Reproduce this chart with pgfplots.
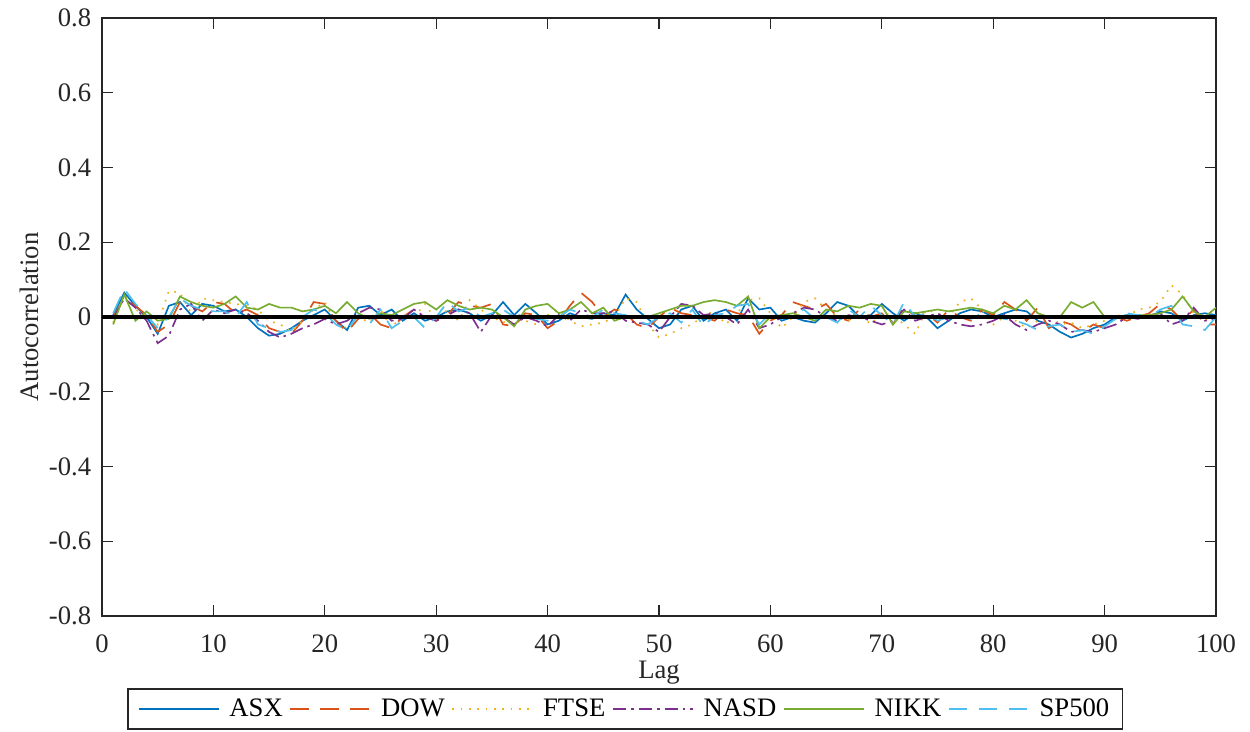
\documentclass[border=0pt]{standalone}
\usepackage{fontspec}
\setmainfont{Liberation Serif}
\usepackage{pgfplots}
\pgfplotsset{compat=1.18}
\usepackage{pgfplotstable}
\definecolor{cASX}{HTML}{0072BD}
\definecolor{cDOW}{HTML}{D95319}
\definecolor{cFTSE}{HTML}{EDB120}
\definecolor{cNASD}{HTML}{7E2F8E}
\definecolor{cNIKK}{HTML}{77AC30}
\definecolor{cSP}{HTML}{4DBEEE}
\definecolor{axgray}{HTML}{262626}

\pgfplotstableread{
lag ASX DOW FTSE NASD NIKK SP
1 0.005 0.0 -0.015 -0.005 -0.02 0.01
2 0.065 0.05 0.06 0.05 0.06 0.075
3 0.03 0.03 0.02 0.025 -0.01 0.035
4 0.0 0.005 0.005 -0.01 0.015 0.005
5 -0.045 -0.04 -0.02 -0.07 -0.01 -0.03
6 0.03 -0.02 0.07 -0.05 -0.005 0.0
7 0.04 0.04 0.065 0.02 0.055 0.05
8 0.005 0.03 0.01 0.035 0.04 0.03
9 0.035 0.015 0.05 -0.01 0.03 0.02
10 0.03 0.04 0.045 0.02 0.025 0.015
11 0.015 0.035 0.04 0.01 0.035 0.015
12 0.02 0.01 0.035 0.02 0.055 0.0
13 0.0 0.02 0.03 0.01 0.025 0.04
14 -0.03 0.005 0.02 -0.01 0.02 -0.02
15 -0.05 -0.03 -0.01 -0.04 0.035 -0.03
16 -0.045 -0.04 -0.02 -0.055 0.025 -0.04
17 -0.03 -0.045 -0.04 -0.045 0.025 -0.035
18 -0.01 -0.01 -0.01 -0.03 0.015 0.0
19 0.005 0.04 0.02 -0.02 0.02 0.02
20 0.02 0.035 0.04 -0.005 0.03 0.01
21 -0.01 -0.01 -0.02 -0.02 0.01 -0.02
22 -0.035 -0.04 -0.03 -0.01 0.04 -0.035
23 0.025 -0.005 0.0 0.01 0.01 0.005
24 0.03 0.01 -0.015 0.025 -0.005 -0.02
25 0.005 -0.02 0.02 0.02 0.01 0.02
26 0.02 -0.03 -0.03 -0.01 0.005 -0.03
27 -0.01 0.0 0.01 -0.005 0.02 -0.01
28 0.01 0.02 0.0 0.02 0.035 0.0
29 -0.01 0.0 0.035 0.0 0.04 -0.03
30 0.0 -0.01 -0.01 -0.01 0.02 0.0
31 0.015 0.005 0.02 0.005 0.045 0.04
32 0.02 0.04 -0.01 0.02 0.03 0.015
33 0.01 0.03 0.045 0.01 0.02 0.025
34 -0.01 0.025 0.02 -0.04 0.025 0.0
35 0.005 0.035 0.0 0.005 0.02 0.01
36 0.04 -0.02 -0.015 0.0 0.0 0.02
37 0.005 -0.025 0.0 -0.02 -0.025 0.0
38 0.035 0.01 -0.01 0.0 0.02 0.01
39 0.01 0.005 -0.02 -0.01 0.03 -0.005
40 -0.02 -0.03 0.005 -0.025 0.035 -0.01
41 -0.01 -0.01 0.02 0.005 0.01 0.0
42 0.01 0.03 -0.01 -0.01 0.02 0.02
43 0.0 0.065 -0.025 0.02 0.04 0.01
44 -0.005 0.04 -0.02 0.01 0.01 0.0
45 0.01 0.0 -0.015 0.01 0.025 0.02
46 0.005 0.02 0.0 0.015 -0.01 0.01
47 0.06 0.01 0.05 -0.01 0.0 0.005
48 0.02 -0.02 0.04 -0.015 0.0 -0.01
49 -0.005 -0.03 -0.02 -0.02 0.0 -0.02
50 -0.03 0.0 -0.055 -0.04 0.01 0.0
51 -0.02 0.025 -0.045 0.0 0.02 0.01
52 0.02 0.01 -0.03 0.035 0.03 -0.015
53 0.03 0.005 -0.02 0.03 0.03 0.02
54 -0.01 0.0 0.005 0.005 0.04 -0.025
55 0.01 -0.01 0.015 0.01 0.045 0.005
56 0.02 0.02 -0.02 0.0 0.04 0.01
57 -0.01 0.01 0.01 -0.02 0.03 0.03
58 0.05 0.005 0.045 0.02 0.055 0.035
59 0.02 -0.045 0.05 -0.03 -0.03 -0.02
60 0.025 -0.01 0.01 -0.02 0.0 0.01
61 -0.01 0.005 -0.03 0.0 0.005 -0.005
62 0.0 0.04 0.0 0.01 0.01 0.0
63 -0.01 0.03 0.04 0.025 0.0 0.02
64 -0.015 0.02 0.05 0.02 -0.01 -0.005
65 0.01 0.035 0.02 0.0 0.02 0.0
66 0.04 0.0 0.0 -0.01 0.015 -0.015
67 0.03 -0.01 -0.01 0.005 0.03 0.02
68 0.0 0.02 0.01 0.0 0.025 0.0
69 0.005 0.0 -0.02 -0.01 0.035 0.03
70 0.035 0.01 0.01 -0.02 0.03 0.005
71 0.01 -0.02 0.005 -0.01 -0.02 -0.02
72 -0.01 0.03 -0.02 0.02 0.015 0.04
73 0.01 0.0 -0.045 -0.01 0.01 0.0
74 0.0 0.01 0.02 0.0 0.015 0.01
75 -0.03 -0.015 0.01 0.01 0.02 -0.01
76 -0.01 0.02 0.0 -0.01 0.015 0.0
77 0.01 0.0 0.04 -0.02 0.02 0.005
78 0.02 -0.01 0.05 -0.025 0.025 -0.005
79 0.015 0.02 0.02 -0.02 0.02 0.01
80 0.0 0.005 -0.02 -0.01 0.01 0.0
81 0.01 0.04 0.0 0.005 0.03 -0.005
82 0.02 0.02 -0.01 -0.02 0.02 -0.01
83 0.015 -0.01 -0.03 -0.035 0.045 -0.02
84 -0.01 0.025 -0.01 -0.02 0.01 -0.035
85 -0.02 -0.03 0.005 -0.01 0.0 -0.025
86 -0.04 -0.01 -0.02 -0.02 0.0 -0.02
87 -0.055 -0.02 -0.015 -0.04 0.04 -0.04
88 -0.045 -0.04 -0.03 -0.035 0.025 -0.035
89 -0.03 -0.02 -0.02 -0.04 0.04 -0.045
90 -0.02 -0.03 -0.01 -0.03 0.0 -0.025
91 0.0 0.0 0.005 -0.02 0.0 -0.005
92 0.005 -0.01 0.0 0.0 0.0 0.01
93 0.005 0.0 0.02 -0.005 0.005 0.005
94 0.0 0.01 0.025 0.005 0.005 0.0
95 0.015 0.035 0.04 0.01 0.01 0.02
96 0.01 0.02 0.085 -0.02 0.02 0.03
97 -0.01 -0.01 0.06 -0.01 0.055 -0.02
98 0.005 0.02 0.01 0.025 0.015 -0.025
99 0.01 -0.02 -0.01 -0.01 0.0 -0.035
100 0.005 -0.02 0.005 -0.005 0.025 0.0
}\acf

\begin{document}
\begin{tikzpicture}
\begin{axis}[
  scale only axis,
  width=668.4pt, height=358.8pt,
  xmin=0, xmax=100, ymin=-0.8, ymax=0.8,
  xtick={0,10,...,100},
  ytick={-0.8,-0.6,-0.4,-0.2,0,0.2,0.4,0.6,0.8},
  yticklabels={-0.8,-0.6,-0.4,-0.2,0,0.2,0.4,0.6,0.8},
  xticklabels={0,10,20,30,40,50,60,70,80,90,100},
  tick align=inside,
  major tick length=6.6pt,
  tick style={axgray, line width=0.8pt},
  axis line style={axgray, line width=1pt},
  ticklabel style={font=\fontsize{16}{19}\selectfont, text=axgray},
  xticklabel style={yshift=-8pt},
  yticklabel style={xshift=-3pt},
  label style={font=\fontsize{16}{19}\selectfont, text=axgray},
  xlabel={Lag},
  ylabel={Autocorrelation},
  xlabel style={yshift=2pt},
  ylabel style={yshift=-1pt},
  legend columns=6,
  legend style={
    at={(0.0224,-0.1204)}, anchor=north west,
    font=\fontsize{16}{19}\selectfont,
    draw=axgray, line width=1pt, fill=none,
    /tikz/every even column/.append style={column sep=2pt},
    /tikz/every odd column/.append style={column sep=4pt},
    inner xsep=6pt, inner ysep=4pt,
  },
  legend image code/.code={
    \draw[#1, line width=1pt] (0pt,0pt) -- (48pt,0pt);
  },
  every axis plot/.append style={line width=1pt},
]
\addplot[cASX, solid] table[x=lag, y=ASX] {\acf};
\addlegendentry{ASX}
\addplot[cDOW, dash pattern=on 11pt off 7pt] table[x=lag, y=DOW] {\acf};
\addlegendentry{DOW}
\addplot[cFTSE, dash pattern=on 1pt off 4pt] table[x=lag, y=FTSE] {\acf};
\addlegendentry{FTSE}
\addplot[cNASD, dash pattern=on 8pt off 3pt on 1.5pt off 3pt] table[x=lag, y=NASD] {\acf};
\addlegendentry{NASD}
\addplot[cNIKK, solid] table[x=lag, y=NIKK] {\acf};
\addlegendentry{NIKK}
\addplot[cSP, dash pattern=on 11pt off 7pt] table[x=lag, y=SP] {\acf};
\addlegendentry{SP500}
\addplot[black, line width=2pt, forget plot] coordinates {(0,0) (100,0)};
\end{axis}
\pgfresetboundingbox
\path[use as bounding box] ([shift={(-61.2pt,-69.6pt)}]current axis.south west) rectangle ([shift={(20.4pt,10.8pt)}]current axis.north east);
\end{tikzpicture}
\end{document}
